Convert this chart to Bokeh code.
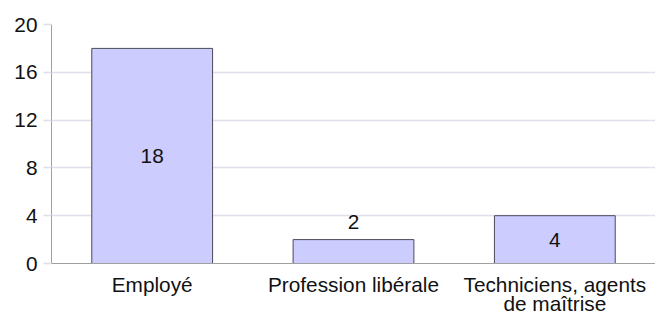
from bokeh.plotting import figure
from bokeh.models import ColumnDataSource, FactorRange, Range1d, FixedTicker, LabelSet
from bokeh.core.properties import value
from bokeh.embed import file_html
from bokeh.resources import INLINE

categories = ["Employé", "Profession libérale", "Techniciens, agents\nde maîtrise"]
values = [18, 2, 4]
y_ticks = [0, 4, 8, 12, 16, 20]

FONT = "Liberation Sans"
FSIZE = "20.8px"

inside = [v >= 4 for v in values]
label_y = [v / 2 if ins else v for v, ins in zip(values, inside)]
label_off = [0 if ins else 18 for ins in inside]

src = ColumnDataSource(dict(cat=categories, val=values, ly=label_y, off=label_off,
                            txt=[str(v) for v in values]))

p = figure(x_range=FactorRange(*categories, range_padding=0), y_range=Range1d(0, 20),
           width=655, height=318, output_backend="svg", toolbar_location=None,
           min_border_left=51, min_border_right=0, min_border_top=24, min_border_bottom=54)
p.outline_line_color = None
p.background_fill_color = "white"
p.border_fill_color = "white"

p.vbar(x="cat", top="val", width=0.6, source=src, fill_color="#ccccff",
       line_color="#4a4a5a", line_width=1)

labels = LabelSet(x="cat", y="ly", text="txt", y_offset="off", source=src,
                  text_align="center", text_baseline="middle",
                  text_font=value(FONT), text_font_size=FSIZE, text_color="#111111")
p.add_layout(labels)

p.xgrid.grid_line_color = None
p.ygrid.grid_line_color = "#e0e0ec"
p.ygrid.grid_line_width = 1.5
p.ygrid.ticker = FixedTicker(ticks=y_ticks)

p.yaxis.ticker = FixedTicker(ticks=y_ticks)
p.yaxis.axis_line_color = "#a0a0a0"
p.yaxis.major_tick_line_color = "#e0e0ec"
p.yaxis.major_tick_line_width = 1.5
p.yaxis.major_tick_out = 8
p.yaxis.major_tick_in = 0
p.yaxis.minor_tick_line_color = None
p.yaxis.major_label_standoff = 6
p.yaxis.major_label_text_font = FONT
p.yaxis.major_label_text_font_size = FSIZE
p.yaxis.major_label_text_color = "#111111"

p.xaxis.axis_line_color = "#a0a0a0"
p.xaxis.major_tick_line_color = None
p.xaxis.major_tick_out = 0
p.xaxis.major_tick_in = 0
p.xaxis.major_label_standoff = 9
p.xaxis.major_label_text_font = FONT
p.xaxis.major_label_text_font_size = FSIZE
p.xaxis.major_label_text_color = "#111111"
p.xaxis.major_label_text_line_height = 0.85

open("out.html", "w").write(file_html(p, INLINE))
